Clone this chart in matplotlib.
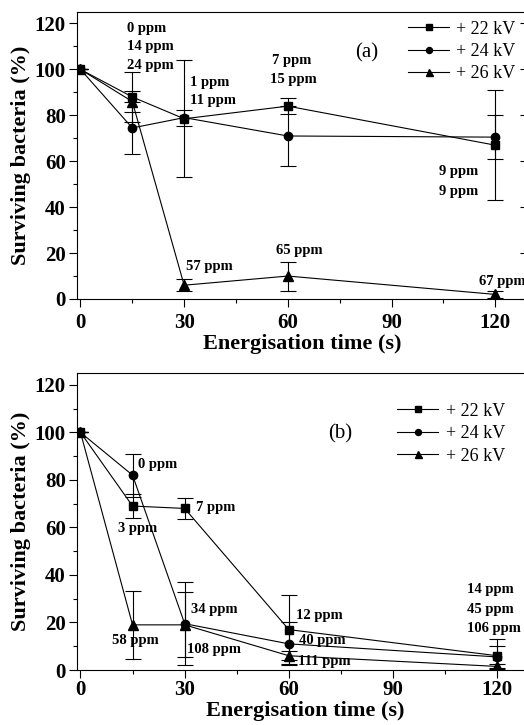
import matplotlib
matplotlib.use("Agg")
import matplotlib.pyplot as plt
from matplotlib.lines import Line2D
from matplotlib.ticker import MultipleLocator

plt.rcParams["font.family"] = ["Liberation Serif", "DejaVu Serif"]

time = [0, 15, 30, 60, 120]
labels = ["+ 22 kV", "+ 24 kV", "+ 26 kV"]
markers = ["s", "o", "^"]
msizes = [6, 6, 7]

# panel (a)
a_22 = [100, 88, 78.5, 84, 67]
a_22_err = [0, 11, 25.5, 3.5, 24]
a_24 = [100, 74.5, 79, 71, 70.5]
a_24_err = [0, 11.5, 3.5, 13, 9.5]
a_26 = [100, 86, 6, 10, 2]
a_26_err = [0, 4.5, 2.5, 6.3, 1.5]

# panel (b)
b_22 = [100, 69, 68, 17, 6]
b_22_err = [0, 5, 4.5, 14.5, 7]
b_24 = [100, 82, 19.5, 11, 5.5]
b_24_err = [0, 9, 17.5, 9, 4.5]
b_26 = [100, 19, 19, 6, 1.5]
b_26_err = [0, 14.3, 13.7, 2, 1]

# annotations: (text, x, y)
a_notes = [("0 ppm", 13.6, 118), ("14 ppm", 13.6, 110), ("24 ppm", 13.6, 101.7),
           ("1 ppm", 31.7, 94.4), ("11 ppm", 31.7, 86.6), ("57 ppm", 30.6, 14.3),
           ("7 ppm", 55.4, 104), ("15 ppm", 54.8, 95.7), ("65 ppm", 56.5, 21),
           ("9 ppm", 103.6, 55.4), ("9 ppm", 103.6, 47), ("67 ppm", 115.4, 7.8)]
b_notes = [("0 ppm", 16.7, 86.7), ("3 ppm", 10.7, 59.4), ("7 ppm", 33.2, 68.6),
           ("34 ppm", 31.7, 25.3), ("58 ppm", 9.2, 12.6), ("108 ppm", 30.8, 8.8),
           ("12 ppm", 62, 23), ("40 ppm", 63, 12.6), ("111 ppm", 62.6, 3.4),
           ("14 ppm", 111.4, 33.7), ("45 ppm", 111.4, 25.3), ("106 ppm", 111.4, 17.3)]


def draw_panel(ax, series, errs, notes, tag, tag_xy, xmax, leg_xy, right_ticks, xpad):
    for vals, err, m, ms in zip(series, errs, markers, msizes):
        ax.errorbar(time, vals, yerr=err, color="black", lw=0.8, marker=m, ms=ms,
                    capsize=6, capthick=0.8, elinewidth=0.8)
    for txt, x, y in notes:
        ax.text(x, y, txt, fontsize=10.5, fontweight="bold", va="center", ha="left")
    ax.text(tag_xy[0], tag_xy[1], tag, fontsize=15, ha="center", va="center")
    ax.set_xlim(-1, xmax)
    ax.set_ylim(0, 125)
    ax.xaxis.set_major_locator(MultipleLocator(30))
    ax.xaxis.set_minor_locator(MultipleLocator(15))
    ax.set_yticks(range(0, 121, 20))
    ax.yaxis.set_minor_locator(MultipleLocator(10))
    ax.tick_params(which="major", direction="out", length=6, width=0.8, labelsize=15, pad=2)
    ax.tick_params(axis="x", which="major", pad=xpad)
    ax.tick_params(which="minor", direction="out", length=3, width=0.8)
    if right_ticks:
        sec = ax.secondary_yaxis("right")
        sec.set_yticks(range(0, 121, 20))
        sec.tick_params(direction="in", length=5, width=0.8, labelright=False)
        sec.spines["right"].set_linewidth(0.8)
    for lab in ax.get_xticklabels() + ax.get_yticklabels():
        lab.set_fontweight("bold")
    for sp in ax.spines.values():
        sp.set_linewidth(0.8)
    ax.set_xlabel("Energisation time (s)", fontsize=16, fontweight="bold", labelpad=1)
    ax.set_ylabel("Surviving bacteria (%)", fontsize=16, fontweight="bold", labelpad=3)
    handles = [Line2D([], [], color="black", lw=0.8, marker=m, ms=ms * 0.72)
               for m, ms in zip(markers, msizes)]
    ax.legend(handles, labels, loc="upper left", bbox_to_anchor=leg_xy, frameon=False,
              fontsize=13, handlelength=2.3, handletextpad=0.4, labelspacing=0.3,
              borderaxespad=0, borderpad=0)


fig = plt.figure(figsize=(5.24, 7.25), dpi=100)
ax_a = fig.add_axes([77 / 524, (725 - 299) / 725, 450 / 524, 287 / 725])
ax_b = fig.add_axes([77 / 524, (725 - 670) / 725, 457 / 524, 297 / 725])

draw_panel(ax_a, [a_22, a_24, a_26], [a_22_err, a_24_err, a_26_err], a_notes,
           "(a)", (82.8, 107), 129.2, (0.735, 0.97), True, 4)
draw_panel(ax_b, [b_22, b_24, b_26], [b_22_err, b_24_err, b_26_err], b_notes,
           "(b)", (74.7, 99.4), 130.6, (0.70, 0.90), False, 1)

fig.savefig("out.png", dpi=100)
